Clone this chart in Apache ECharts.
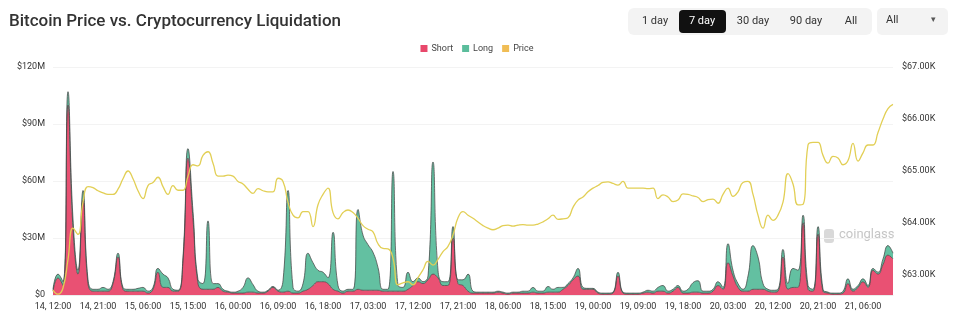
<!DOCTYPE html>
<html>
<head>
<meta charset="utf-8">
<script src="https://cdn.jsdelivr.net/npm/echarts@6/dist/echarts.min.js"></script>
<style>
  html, body { margin: 0; padding: 0; background: #fff; }
  #main { width: 954px; height: 326px; }
</style>
</head>
<body>
<div id="main"></div>
<script>
// hourly points, 14 12:00 -> 21 12:00
const startDay = 14;
const startHour = 12;
const hours = 169;

// liquidations, $M
const shortData = [
  2, 9, 5, 100, 35, 11, 50, 6, 2, 2,
  2, 2, 6, 20, 3, 2, 2, 2, 2, 1,
  3, 12, 4, 4, 2, 2, 18, 72, 40, 6,
  3, 3, 3, 4, 2, 1.5, 1, 1, 1, 1.5,
  1.5, 1, 1, 2, 4, 2, 1.5, 2, 1, 1,
  2, 3, 5, 7, 7, 6, 3, 2, 1, 2,
  2, 3, 2.5, 2.5, 2.5, 2.5, 2, 2, 2, 2,
  2, 3, 5, 7, 6, 8, 11, 9, 5, 5,
  30, 6, 5, 2, 1, 1, 1, 1, 1, 1.5,
  1, 0.5, 1, 1, 1, 1, 1.5, 1, 1, 1.5,
  1.5, 1.5, 3, 5, 8, 10, 3, 3, 3, 1,
  0.5, 0.5, 1, 10, 1, 0.5, 0.5, 0.5, 1, 1.5,
  1, 2, 2, 1, 2, 4, 1, 1, 1.5, 1.5,
  1, 1, 2, 5, 3, 17, 10, 4, 2, 2,
  3, 3, 3, 2, 1.5, 2, 20, 3, 4, 4,
  38, 3, 2, 32, 2, 1, 0.5, 0.5, 1, 6,
  2, 4, 7, 4, 13, 11, 16, 21, 19
];
const longData = [
  1, 2, 2, 7, 5, 2, 5, 2, 1, 1,
  2, 1, 1, 2, 1, 1, 1, 1.5, 2, 1,
  1, 2, 7, 5, 1, 0.5, 2, 5, 4, 2,
  3, 36, 3, 2, 1, 0.5, 0.5, 1, 3, 7.5,
  4, 1, 0.5, 0.5, 0.5, 0.5, 6, 53, 3, 1,
  4, 19, 12, 6, 5, 3, 30, 3, 1, 1,
  1, 42, 29, 24, 20, 12, 1, 1, 63, 3,
  2, 9, 2, 2, 1, 2, 59, 4, 2, 2,
  6, 2, 3, 9, 1, 0.5, 0.5, 0.5, 0.5, 0.5,
  0.5, 0.5, 0.5, 0.5, 1, 1, 2.5, 1, 1, 3,
  1.5, 2.5, 1, 1, 1, 4, 1, 0.5, 0.5, 0.5,
  0.5, 0.5, 0.5, 2, 0.5, 0.5, 0.5, 0.5, 0.5, 1,
  1, 2, 3, 1, 1, 1, 1, 2, 5, 6,
  1, 1, 1, 2, 1, 10, 3, 2, 1, 8,
  23, 17, 3, 1, 1, 1, 4, 3, 10, 9,
  4, 2, 1, 4, 1, 0.5, 0.5, 0.5, 1, 2.5,
  1, 1, 1.5, 1, 1, 1, 3, 5, 3
];
// BTC price, $K
const priceData = [
  62.71, 62.63, 62.75, 63.3, 63.9, 63.78, 64.4, 64.7, 64.68, 64.62,
  64.58, 64.55, 64.55, 64.65, 64.85, 65.0, 64.85, 64.62, 64.47, 64.72,
  64.78, 64.88, 64.7, 64.55, 64.72, 64.63, 64.63, 64.9, 65.12, 65.1,
  65.3, 65.37, 65.15, 64.9, 64.9, 64.92, 64.9, 64.8, 64.75, 64.65,
  64.57, 64.66, 64.62, 64.6, 64.6, 64.86, 64.8, 64.4, 64.15, 64.1,
  64.22, 64.22, 63.93, 64.35, 64.55, 64.67, 64.2, 64.08, 64.2, 64.25,
  64.2, 64.09, 63.95, 63.88, 63.83, 63.6, 63.51, 63.5, 63.32, 62.81,
  62.85, 62.87, 62.81, 62.95, 63.1, 63.26, 63.19, 63.3, 63.45, 63.55,
  63.77, 64.1, 64.22, 64.15, 64.09, 64.02, 63.95, 63.9, 63.87, 63.9,
  63.95, 63.96, 63.94, 63.96, 63.97, 63.96, 63.96, 63.98, 64.02, 64.08,
  64.15, 64.07, 64.08, 64.1, 64.3, 64.44, 64.5, 64.6, 64.67, 64.72,
  64.78, 64.79, 64.76, 64.73, 64.8, 64.67, 64.67, 64.67, 64.67, 64.66,
  64.67, 64.47, 64.54, 64.5, 64.41, 64.44, 64.56, 64.55, 64.52, 64.49,
  64.41, 64.45, 64.46, 64.38, 64.55, 64.67, 64.51, 64.6, 64.78, 64.8,
  64.55, 64.15, 63.9, 64.15, 64.05, 64.15, 64.4, 64.95, 64.75, 64.35,
  64.36, 65.5, 65.55, 65.55, 65.3, 65.15, 65.28, 65.25, 65.12, 65.2,
  65.53, 65.19, 65.35, 65.5, 65.5, 65.74, 66.0, 66.2, 66.28
];

const rightTicks = [63, 64, 65, 66, 67];
const rangeLabels = ['1 day', '7 day', '30 day', '90 day', 'All'];

// time labels "14, 12:00"
const categories = [];
for (let i = 0; i < hours; i++) {
  const t = startHour + i;
  const d = startDay + Math.floor(t / 24);
  const h = t % 24;
  categories.push(d + ', ' + (h < 10 ? '0' + h : h) + ':00');
}

const font = 'Roboto, "Noto Sans", sans-serif';
const red = '#e8486b';
const green = '#5bbd9c';
const yellow = '#e2cf55';

// range buttons on the top right + watermark
const btnX = [655, 702, 753, 806, 851];
const graphics = [
  { type: 'rect', shape: { x: 628, y: 8, width: 244, height: 27, r: 6 }, style: { fill: '#f3f3f3' } },
  { type: 'rect', shape: { x: 679, y: 10, width: 47, height: 23, r: 4 }, style: { fill: '#111' } },
  { type: 'rect', shape: { x: 877, y: 8, width: 71, height: 27, r: 5 }, style: { fill: '#f3f3f3' } },
  { type: 'text', left: 886, top: 15, style: { text: 'All', fill: '#333', font: '11px ' + font } },
  { type: 'text', left: 931, top: 15, style: { text: '▾', fill: '#555', font: '9px ' + font } },
  { type: 'rect', shape: { x: 824, y: 229, width: 10, height: 14, r: 3 }, style: { fill: '#d9d9d9' } },
  { type: 'text', left: 839, top: 228, style: { text: 'coinglass', fill: '#c6c6c6', font: '13px ' + font } }
];
rangeLabels.forEach(function (s, i) {
  graphics.push({
    type: 'text', x: btnX[i], y: 21,
    style: { text: s, fill: i === 1 ? '#fff' : '#333', font: '11px ' + font, align: 'center', verticalAlign: 'middle' }
  });
});

const chart = echarts.init(document.getElementById('main'));
chart.setOption({
  animation: false,
  backgroundColor: '#fff',
  title: {
    text: 'Bitcoin Price vs. Cryptocurrency Liquidation',
    left: 4, top: 8,
    textStyle: { color: '#333', fontSize: 17, fontWeight: 500, fontFamily: font }
  },
  legend: {
    top: 39, left: 'center',
    icon: 'rect', itemWidth: 7, itemHeight: 7, itemGap: 9,
    textStyle: { color: '#444', fontSize: 9, fontFamily: font, padding: [0, 0, 0, -1] },
    data: [
      { name: 'Short', itemStyle: { color: red } },
      { name: 'Long', itemStyle: { color: green } },
      { name: 'Price', itemStyle: { color: '#f0bd55' } }
    ]
  },
  graphic: graphics,
  grid: { left: 53, right: 61, top: 67, bottom: 31 },
  xAxis: {
    type: 'category',
    data: categories,
    boundaryGap: false,
    axisLine: { lineStyle: { color: '#ececec' } },
    axisTick: { show: false },
    axisLabel: { interval: 8, color: '#333', fontSize: 9, fontFamily: font, margin: 7 }
  },
  yAxis: [
    {
      type: 'value', min: 0, max: 120, interval: 30,
      axisLabel: {
        color: '#333', fontSize: 9, fontFamily: font, margin: 8,
        formatter: function (v) { return v === 0 ? '$0' : '$' + v + 'M'; }
      },
      splitLine: { lineStyle: { color: '#f3f3f3' } }
    },
    {
      type: 'value', min: 62.615, max: 67,
      position: 'right',
      axisLine: { show: false },
      axisTick: { show: false },
      splitLine: { show: false },
      axisLabel: {
        customValues: rightTicks,
        color: '#333', fontSize: 9, fontFamily: font, margin: 9,
        formatter: function (v) { return '$' + v.toFixed(2) + 'K'; }
      }
    }
  ],
  series: [
    {
      name: 'Short', type: 'line', stack: 'liq', smooth: true, symbol: 'none',
      data: shortData,
      itemStyle: { color: red },
      lineStyle: { color: 'rgba(70,70,70,0.75)', width: 1 },
      areaStyle: { color: red, opacity: 0.95 }
    },
    {
      name: 'Long', type: 'line', stack: 'liq', smooth: true, symbol: 'none',
      data: longData,
      itemStyle: { color: green },
      lineStyle: { color: 'rgba(70,70,70,0.75)', width: 1 },
      areaStyle: { color: green, opacity: 0.95 }
    },
    {
      name: 'Price', type: 'line', yAxisIndex: 1, smooth: true, symbol: 'none',
      data: priceData,
      itemStyle: { color: yellow },
      lineStyle: { color: yellow, width: 1.3 }
    }
  ]
});
</script>
</body>
</html>
